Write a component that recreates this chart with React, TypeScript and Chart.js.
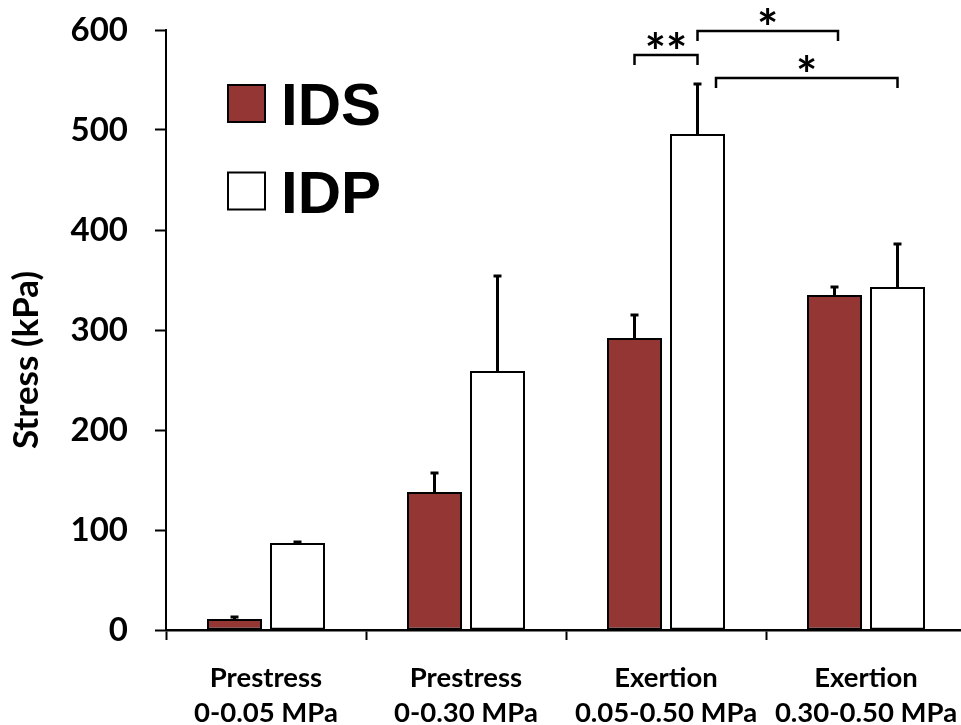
import React, { useEffect, useRef } from "react";
import { Chart, registerables } from "chart.js";

Chart.register(...registerables);

const categories: string[][] = [
  ["Prestress", "0-0.05 MPa"],
  ["Prestress", "0-0.30 MPa"],
  ["Exertion", "0.05-0.50 MPa"],
  ["Exertion", "0.30-0.50 MPa"],
];
const seriesNames = ["IDS", "IDP"];
const idsValues = [11, 138, 292, 335];
const idsErrors = [2, 19, 23, 8];
const idpValues = [87, 259, 496, 343];
const idpErrors = [1, 95, 50, 43];
const yMin = 0;
const yMax = 600;
const yStep = 100;
const yTitle = "Stress (kPa)";
// significance brackets: category-index positions and y value
const brackets = [
  { from: 1.8425, to: 2.1575, y: 575, label: "**" },
  { from: 2.1575, to: 2.86, y: 599, label: "*" },
  { from: 2.25, to: 3.1575, y: 552, label: "*" },
];

const RED = "#943634";
const FONT = "Lato";

const errorBarPlugin = {
  id: "errorBars",
  afterDatasetsDraw(chart: any) {
    const ctx = chart.ctx;
    const yScale = chart.scales.y;
    const errs = [idsErrors, idpErrors];
    chart.data.datasets.forEach((ds: any, di: number) => {
      const meta = chart.getDatasetMeta(di);
      meta.data.forEach((el: any, i: number) => {
        const v = ds.data[i];
        const top = yScale.getPixelForValue(v + errs[di][i]);
        ctx.save();
        ctx.strokeStyle = "#000";
        ctx.lineWidth = 3;
        ctx.beginPath();
        ctx.moveTo(el.x, el.y);
        ctx.lineTo(el.x, top);
        ctx.stroke();
        ctx.beginPath();
        ctx.moveTo(el.x - 4, top);
        ctx.lineTo(el.x + 4, top);
        ctx.stroke();
        ctx.restore();
      });
    });
  },
};

const bracketPlugin = {
  id: "brackets",
  afterDraw(chart: any) {
    const ctx = chart.ctx;
    const x = chart.scales.x;
    const y = chart.scales.y;
    ctx.save();
    ctx.strokeStyle = "#000";
    ctx.lineWidth = 2.5;
    ctx.fillStyle = "#000";
    ctx.font = `bold 50px ${FONT}`;
    ctx.textAlign = "center";
    ctx.textBaseline = "middle";
    brackets.forEach((b) => {
      const x1 = x.getPixelForValue(b.from);
      const x2 = x.getPixelForValue(b.to);
      const yy = y.getPixelForValue(b.y);
      const yl = y.getPixelForValue(b.y - 10);
      ctx.beginPath();
      ctx.moveTo(x1, yl);
      ctx.lineTo(x1, yy);
      ctx.lineTo(x2, yy);
      ctx.lineTo(x2, yl);
      ctx.stroke();
      ctx.fillText(b.label, (x1 + x2) / 2, yy - 1);
    });
    ctx.restore();
  },
};

const yTitlePlugin = {
  id: "yTitle",
  afterDraw(chart: any) {
    const ctx = chart.ctx;
    const area = chart.chartArea;
    ctx.save();
    ctx.translate(27, (area.top + area.bottom) / 2 + 30);
    ctx.rotate(-Math.PI / 2);
    ctx.fillStyle = "#000";
    ctx.font = `bold 35px ${FONT}`;
    ctx.textAlign = "center";
    ctx.textBaseline = "middle";
    ctx.fillText(yTitle, 0, 0);
    ctx.restore();
  },
};

const legendPlugin = {
  id: "customLegend",
  afterDraw(chart: any) {
    const ctx = chart.ctx;
    ctx.save();
    chart.data.datasets.forEach((ds: any, i: number) => {
      const bx = 228;
      const by = 85 + i * 87.5;
      ctx.fillStyle = ds.backgroundColor;
      ctx.fillRect(bx, by, 37, 37);
      ctx.strokeStyle = "#000";
      ctx.lineWidth = 2;
      ctx.strokeRect(bx, by, 37, 37);
      ctx.fillStyle = "#000";
      ctx.font = `bold 60px "Liberation Sans", Arial, sans-serif`;
      ctx.textAlign = "left";
      ctx.textBaseline = "alphabetic";
      ctx.fillText(ds.label, 281, by + 40);
    });
    ctx.restore();
  },
};

export default function App() {
  const ref = useRef<HTMLCanvasElement>(null);
  useEffect(() => {
    if (!ref.current) return;
    const yTicks: number[] = [];
    for (let v = yMin; v <= yMax; v += yStep) yTicks.push(v);
    const chart = new Chart(ref.current, {
      type: "bar",
      data: {
        labels: categories,
        datasets: [
          {
            label: seriesNames[0],
            data: idsValues,
            backgroundColor: RED,
            borderColor: "#000",
            borderWidth: 2,
            borderSkipped: false,
            barPercentage: 0.873,
            categoryPercentage: 0.63,
          },
          {
            label: seriesNames[1],
            data: idpValues,
            backgroundColor: "#ffffff",
            borderColor: "#000",
            borderWidth: 2,
            borderSkipped: false,
            barPercentage: 0.873,
            categoryPercentage: 0.63,
          },
        ],
      },
      options: {
        animation: false,
        responsive: false,
        layout: { padding: { top: 30, right: 14, left: 0, bottom: 0 } },
        plugins: { legend: { display: false }, tooltip: { enabled: false } },
        scales: {
          x: {
            offset: true,
            ticks: {
              color: "#000",
              font: { family: FONT, weight: "bold", size: 27.5, lineHeight: 35 / 27.5 },
              padding: 21,
              maxRotation: 0,
            },
            grid: {
              offset: true,
              drawOnChartArea: false,
              tickLength: 10,
              tickWidth: 2,
              tickColor: "#000",
            },
            border: { color: "#000", width: 2.5 },
            afterFit: (s: any) => {
              s.height = 95;
              s.paddingLeft = 0;
              s.paddingRight = 0;
            },
          },
          y: {
            min: yMin,
            max: yMax,
            afterBuildTicks: (s: any) => {
              s.ticks = yTicks.map((v) => ({ value: v }));
            },
            ticks: {
              color: "#000",
              font: { family: FONT, weight: "bold", size: 33 },
              padding: 27,
            },
            grid: {
              drawOnChartArea: false,
              tickLength: 11,
              tickWidth: 2,
              tickColor: "#000",
            },
            border: { color: "#000", width: 2 },
            title: { display: false },
            afterFit: (s: any) => {
              s.width = 166;
              s.paddingTop = 0;
              s.paddingBottom = 0;
            },
          },
        },
      },
      plugins: [errorBarPlugin, bracketPlugin, yTitlePlugin, legendPlugin],
    } as any);
    return () => chart.destroy();
  }, []);
  return (
    <div
      style={{
        position: "fixed",
        left: 0,
        top: 0,
        width: 961,
        height: 725,
        overflow: "hidden",
        background: "#fff",
      }}
    >
      <canvas ref={ref} width={980} height={725} style={{ display: "block" }} />
    </div>
  );
}
